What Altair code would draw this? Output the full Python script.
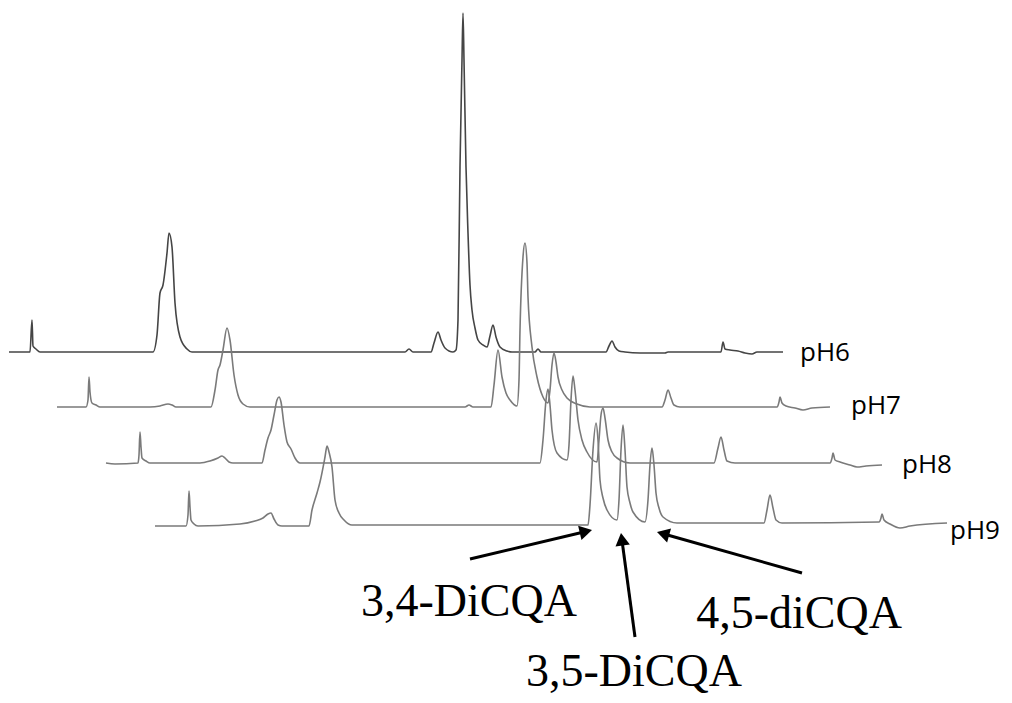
import math
import altair as alt
import pandas as pd

# ---- chromatogram traces ----
# t: scan index relative to start of each run, s: detector signal (mAU, relative to baseline)
trace_names = ["pH6", "pH7", "pH8", "pH9"]

ph6_t = [0, 21, 23, 24, 27, 31, 144, 148, 151, 154, 158, 160, 163, 166, 171, 178, 183, 396, 400, 404,
         422, 425, 429, 432, 436, 444, 447, 449, 451, 453, 454, 455, 457, 459, 461, 463, 466, 469, 474,
         478, 481, 484, 487, 491, 498, 503, 526, 529, 532, 597, 600, 603, 606, 610, 616, 631, 656, 659,
         712, 714, 716, 721, 729, 736, 743, 748, 774]
ph6_s = [0, 0, 32, 6, 3, 0, 0, 17, 59, 67, 99, 119, 105, 49, 15, 3, 0, 0, 3, 0,
         0, 9, 20, 12, 4, 0, 2, 32, 185, 292, 339, 292, 185, 119, 67, 42, 24, 12, 7,
         5, 16, 27, 15, 5, 1, 0, 0, 3, 0, 0, 6, 11, 5, 1, 0, -1, -1, 0,
         0, 10, 3, 2, 1, -1, -2, 0, 0]

ph7_t = [0, 29, 31, 32, 33, 35, 39, 43, 93, 103, 111, 115, 119, 154, 158, 161, 163, 166, 170, 173, 177,
         181, 186, 193, 408, 412, 416, 434, 437, 441, 445, 449, 453, 460, 462, 463, 466, 468, 470, 471,
         475, 480, 486, 491, 493, 495, 497, 499, 501, 505, 510, 520, 533, 605, 608, 611, 614, 617, 623,
         720, 722, 723, 725, 729, 738, 746, 755, 773]
ph7_s = [0, 0, 7, 30, 15, 4, 2, 0, 0, 1, 3, 2, 0, 0, 17, 37, 42, 57, 79, 67, 32,
         12, 3, 0, 0, 2, 0, 0, 22, 57, 30, 14, 7, 1, 27, 77, 150, 164, 144, 110,
         60, 30, 10, 4, 17, 42, 54, 45, 30, 17, 9, 3, 0, 0, 7, 17, 9, 2, 0,
         0, 5, 10, 4, 1, -1, -3, -1, 0]

ph8_t = [0, 9, 32, 33, 34, 35, 36, 40, 44, 94, 104, 112, 116, 119, 123, 127, 156, 159, 162, 165, 168,
         171, 173, 175, 178, 181, 185, 189, 194, 434, 437, 440, 442, 444, 446, 451, 461, 463, 465, 467,
         469, 472, 476, 481, 491, 493, 495, 497, 499, 502, 506, 511, 524, 608, 612, 615, 618, 621, 629,
         724, 726, 727, 729, 734, 744, 751, 760, 776]
ph8_s = [0, -1, 0, 8, 31, 16, 5, 2, 0, 0, 2, 5, 7, 5, 1, 0, 0, 13, 25, 33, 48,
         63, 66, 61, 38, 21, 14, 5, 0, 0, 23, 63, 74, 58, 33, 10, 3, 18, 63, 87,
         73, 43, 23, 11, 1, 23, 48, 55, 45, 23, 11, 5, 0, 0, 15, 26, 13, 2, 0,
         0, 5, 10, 3, 1, -2, -4, -3, -2]

ph9_t = [0, 31, 33, 34, 35, 36, 39, 43, 85, 100, 108, 113, 116, 119, 123, 127, 154, 157, 162, 165, 170,
         172, 174, 177, 180, 184, 189, 197, 433, 435, 438, 441, 443, 445, 448, 452, 462, 464, 466, 468,
         470, 472, 475, 478, 490, 493, 495, 497, 499, 501, 504, 508, 522, 609, 612, 615, 618, 621, 627,
         724, 726, 727, 729, 735, 745, 755, 792]
ph9_s = [0, 0, 11, 35, 19, 6, 2, 0, 2, 5, 8, 12, 13, 7, 1, 0, 0, 16, 33, 44, 69,
         80, 74, 59, 26, 13, 6, 1, 1, 21, 76, 103, 86, 46, 28, 16, 6, 26, 76, 101,
         76, 39, 23, 14, 4, 26, 61, 78, 61, 33, 18, 9, 3, 3, 16, 31, 18, 6, 3,
         4, 8, 12, 6, 2, -2, 0, 3]

# stacking offsets of each run (waterfall display)
run_shift_t = [1, 49, 98, 147]
run_shift_s = [343, 288, 232, 169]
label_t = [791, 794, 796, 795]
label_ds = [-1, 1, -2, -5]

# compound annotations
compound_names = ["3,4-DiCQA", "3,5-DiCQA", "4,5-diCQA"]
compound_x = [461, 626, 791]
compound_y = [79, 9, 67]
arrow_tail_x = [462, 627, 794]
arrow_tail_y = [136, 58, 122]
arrow_tip_x = [584, 613, 649]
arrow_tip_y = [165, 162, 163]

# ---- build tables ----
series = [(ph6_t, ph6_s), (ph7_t, ph7_s), (ph8_t, ph8_s), (ph9_t, ph9_s)]
rows = []
for k, (ts, ss) in enumerate(series):
    for i, (t, s) in enumerate(zip(ts, ss)):
        rows.append({"run": trace_names[k], "i": i,
                     "X": t + run_shift_t[k], "Y": s + run_shift_s[k]})
df = pd.DataFrame(rows)

lab_df = pd.DataFrame({
    "run": trace_names,
    "X": [label_t[k] + run_shift_t[k] for k in range(4)],
    "Y": [run_shift_s[k] + label_ds[k] for k in range(4)],
})

HEAD_SIZE = 210
head_h = math.sqrt(3) / 2 * math.sqrt(HEAD_SIZE) / 2
arr_rows = []
for k in range(3):
    dx = arrow_tip_x[k] - arrow_tail_x[k]
    dy = arrow_tip_y[k] - arrow_tail_y[k]
    L = math.hypot(dx, dy)
    ux, uy = dx / L, dy / L
    cx = arrow_tip_x[k] - ux * head_h
    cy = arrow_tip_y[k] - uy * head_h
    ang = math.degrees(math.atan2(dx, dy)) % 360
    arr_rows.append({"x": arrow_tail_x[k], "y": arrow_tail_y[k], "x2": cx, "y2": cy, "ang": ang})
arr_df = pd.DataFrame(arr_rows)

comp_df = pd.DataFrame({"name": compound_names, "X": compound_x, "Y": compound_y})

W, H = 996, 687
xs = alt.Scale(domain=[0, W], nice=False, zero=False)
ys = alt.Scale(domain=[0, H], nice=False, zero=False)

lines = alt.Chart(df).mark_line(interpolate="monotone", strokeWidth=1.6).encode(
    x=alt.X("X:Q", scale=xs, axis=None),
    y=alt.Y("Y:Q", scale=ys, axis=None),
    detail="run:N",
    order="i:Q",
    color=alt.Color("run:N", scale=alt.Scale(domain=trace_names,
                    range=["#454545", "#7a7a7a", "#7a7a7a", "#7a7a7a"]), legend=None),
)

labels = alt.Chart(lab_df).mark_text(align="left", baseline="middle", font="Open Sans",
                                      fontSize=26, color="black").encode(
    x=alt.X("X:Q", scale=xs, axis=None),
    y=alt.Y("Y:Q", scale=ys, axis=None),
    text="run:N",
)

shafts = alt.Chart(arr_df).mark_rule(color="black", strokeWidth=3).encode(
    x=alt.X("x:Q", scale=xs, axis=None),
    y=alt.Y("y:Q", scale=ys, axis=None),
    x2="x2:Q",
    y2="y2:Q",
)

heads = alt.Chart(arr_df).mark_point(shape="triangle-up", filled=True, size=HEAD_SIZE,
                                      color="black", opacity=1, strokeWidth=0).encode(
    x=alt.X("x2:Q", scale=xs, axis=None),
    y=alt.Y("y2:Q", scale=ys, axis=None),
    angle=alt.Angle("ang:Q", scale=None),
)

comps = alt.Chart(comp_df).mark_text(align="center", baseline="alphabetic",
                                      font="Liberation Serif", fontSize=46, color="black").encode(
    x=alt.X("X:Q", scale=xs, axis=None),
    y=alt.Y("Y:Q", scale=ys, axis=None),
    text="name:N",
)

chart = alt.layer(lines, labels, shafts, heads, comps).properties(
    width=W, height=H, autosize=alt.AutoSizeParams(type="none"), padding=0,
    background="white",
).configure_view(stroke=None)

chart.save("out.html", embed_options={"renderer": "svg", "actions": False})
